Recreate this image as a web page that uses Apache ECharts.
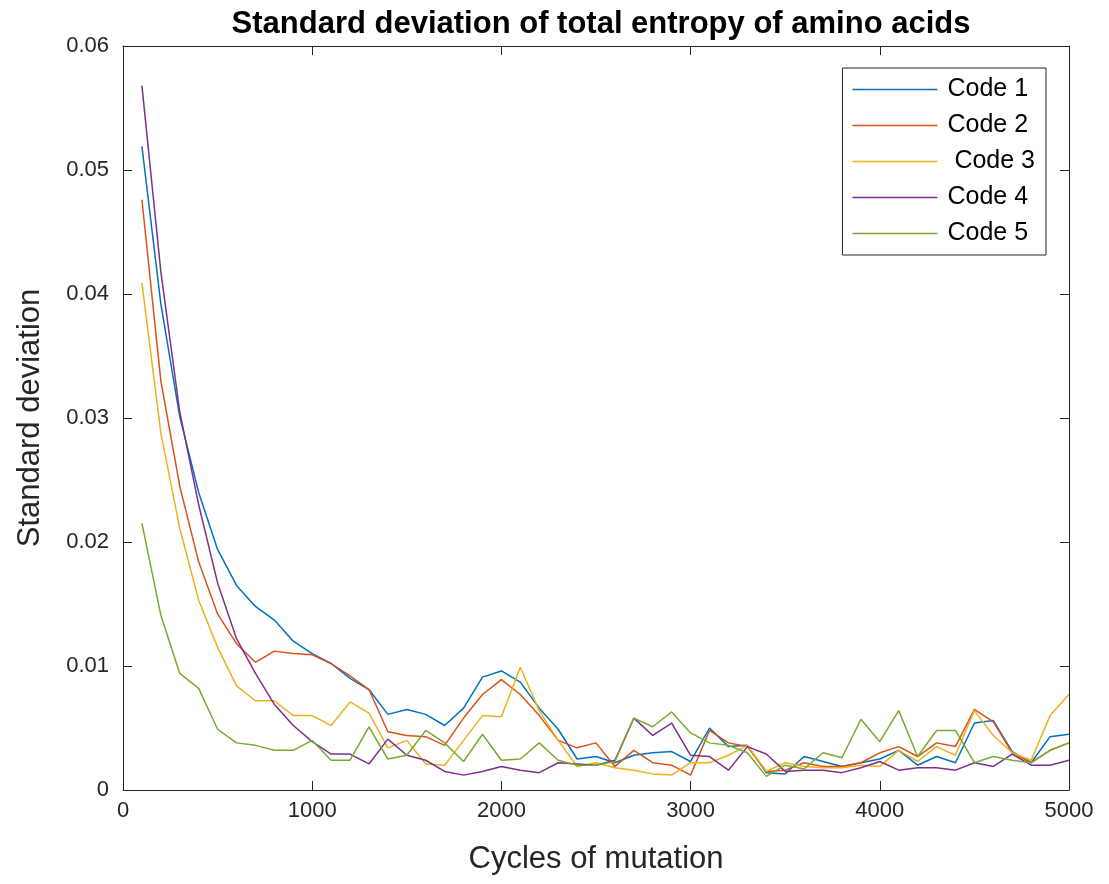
<!DOCTYPE html>
<html>
<head>
<meta charset="utf-8">
<script src="https://cdn.jsdelivr.net/npm/echarts@6/dist/echarts.min.js"></script>
<style>
html,body{margin:0;padding:0;background:#fff;}
#chart{width:1109px;height:884px;}
</style>
</head>
<body>
<div id="chart"></div>
<script>
var cycles = [100,200,300,400,500,600,700,800,900,1000,
  1100,1200,1300,1400,1500,1600,1700,1800,1900,2000,
  2100,2200,2300,2400,2500,2600,2700,2800,2900,3000,
  3100,3200,3300,3400,3500,3600,3700,3800,3900,4000,
  4100,4200,4300,4400,4500,4600,4700,4800,4900,5000];

var code1 = [0.0519,0.0392,0.0301,0.0240,0.0194,0.0165,0.0148,0.0137,0.0120,0.0110,
  0.0102,0.0090,0.0081,0.0061,0.0065,0.0061,0.0052,0.0066,0.0091,0.0096,
  0.0087,0.0066,0.0049,0.0025,0.0027,0.0022,0.0028,0.0030,0.0031,0.0023,
  0.0050,0.0035,0.0036,0.0014,0.0013,0.0027,0.0023,0.0019,0.0022,0.0025,
  0.0032,0.0020,0.0027,0.0022,0.0054,0.0056,0.0031,0.0022,0.0043,0.0045];

var code2 = [0.0476,0.0330,0.0245,0.0184,0.0142,0.0118,0.0103,0.0112,0.0110,0.0109,
  0.0102,0.0092,0.0081,0.0047,0.0044,0.0043,0.0036,0.0058,0.0077,0.0089,
  0.0077,0.0060,0.0040,0.0034,0.0038,0.0019,0.0032,0.0022,0.0020,0.0012,
  0.0048,0.0038,0.0035,0.0015,0.0016,0.0022,0.0019,0.0019,0.0022,0.0030,
  0.0035,0.0027,0.0038,0.0035,0.0065,0.0055,0.0030,0.0022,0.0032,0.0038];

var code3 = [0.0409,0.0288,0.0211,0.0153,0.0115,0.0084,0.0072,0.0072,0.0060,0.0060,
  0.0052,0.0071,0.0062,0.0034,0.0040,0.0021,0.0020,0.0040,0.0060,0.0059,
  0.0099,0.0064,0.0040,0.0019,0.0022,0.0018,0.0016,0.0013,0.0012,0.0022,
  0.0022,0.0028,0.0036,0.0015,0.0022,0.0019,0.0018,0.0018,0.0020,0.0019,
  0.0032,0.0023,0.0035,0.0028,0.0064,0.0044,0.0030,0.0024,0.0060,0.0077];

var code4 = [0.0568,0.0418,0.0305,0.0230,0.0167,0.0122,0.0094,0.0069,0.0052,0.0039,
  0.0029,0.0029,0.0021,0.0041,0.0028,0.0024,0.0015,0.0012,0.0015,0.0019,
  0.0016,0.0014,0.0022,0.0021,0.0020,0.0024,0.0058,0.0044,0.0054,0.0028,
  0.0027,0.0016,0.0035,0.0029,0.0015,0.0016,0.0016,0.0014,0.0018,0.0023,
  0.0016,0.0018,0.0018,0.0016,0.0022,0.0019,0.0029,0.0020,0.0020,0.0024];

var code5 = [0.0215,0.0141,0.0094,0.0082,0.0049,0.0038,0.0036,0.0032,0.0032,0.0040,
  0.0024,0.0024,0.0051,0.0025,0.0028,0.0048,0.0038,0.0023,0.0045,0.0024,
  0.0025,0.0038,0.0024,0.0020,0.0020,0.0023,0.0058,0.0051,0.0063,0.0046,
  0.0038,0.0036,0.0030,0.0011,0.0020,0.0017,0.0030,0.0026,0.0057,0.0039,
  0.0064,0.0027,0.0048,0.0048,0.0022,0.0027,0.0024,0.0022,0.0032,0.0038];

var seriesNames = ['Code 1','Code 2',' Code 3','Code 4','Code 5'];
var seriesData = [code1, code2, code3, code4, code5];
var colors = ['#0072BD','#D95319','#EDB120','#7E2F8E','#77AC30'];

var FONT = 'Liberation Sans, Arial, Helvetica, sans-serif';
var AX = '#262626';

function pairs(ys){
  return cycles.map(function(x,i){ return [x, ys[i]]; });
}

var chart = echarts.init(document.getElementById('chart'), null, {renderer:'canvas'});

var series = seriesNames.map(function(n, i){
  return {
    name: n,
    type: 'line',
    xAxisIndex: 0,
    yAxisIndex: 0,
    data: pairs(seriesData[i]),
    symbol: 'none',
    showSymbol: false,
    smooth: false,
    animation: false,
    lineStyle: {color: colors[i], width: 1.5},
    itemStyle: {color: colors[i]}
  };
});

function boxAxisX(pos, main){
  return {
    type: 'value', min: 0, max: 5000, interval: 1000,
    position: pos,
    axisLine: {show: true, onZero: false, lineStyle: {color: AX, width: 1}},
    axisTick: {show: true, inside: true, length: 9, lineStyle: {color: AX}},
    axisLabel: main ? {fontFamily: FONT, fontSize: 22, color: AX, margin: 10,
      formatter: function(v){ return String(v); }} : {show: false},
    splitLine: {show: false}
  };
}
function boxAxisY(pos, main){
  return {
    type: 'value', min: 0, max: 0.06, interval: 0.01,
    position: pos,
    axisLine: {show: true, onZero: false, lineStyle: {color: AX, width: 1}},
    axisTick: {show: true, inside: true, length: 9, lineStyle: {color: AX}},
    axisLabel: main ? {fontFamily: FONT, fontSize: 22, color: AX, margin: 14,
      formatter: function(v){ return v === 0 ? '0' : v.toFixed(2); }} : {show: false},
    splitLine: {show: false}
  };
}

var xMain = boxAxisX('bottom', true);
xMain.name = 'Cycles of mutation';
xMain.nameLocation = 'middle';
xMain.nameGap = 54;
xMain.nameTextStyle = {fontFamily: FONT, fontSize: 31, color: AX};

var yMain = boxAxisY('left', true);
yMain.name = 'Standard deviation';
yMain.nameLocation = 'middle';
yMain.nameGap = 77;
yMain.nameTextStyle = {fontFamily: FONT, fontSize: 31, color: AX};

var option = {
  backgroundColor: '#fff',
  animation: false,
  color: colors,
  title: {
    text: 'Standard deviation of total entropy of amino acids',
    left: 596,
    textAlign: 'center',
    top: 4,
    textStyle: {fontFamily: FONT, fontSize: 31, fontWeight: 'bold', color: '#000'}
  },
  legend: {
    orient: 'vertical',
    right: 63,
    top: 68,
    backgroundColor: '#fff',
    borderColor: AX,
    borderWidth: 1,
    borderRadius: 0,
    padding: [9, 11, 9, 10],
    itemWidth: 85,
    itemHeight: 1.5,
    itemGap: 11,
    textStyle: {fontFamily: FONT, fontSize: 25, color: '#000', padding: [0, 0, 0, 5]},
    data: seriesNames.map(function(n,i){ return {name: n, icon: 'rect', itemStyle:{color: colors[i]}}; })
  },
  grid: {left: 123, right: 40, top: 46, bottom: 94, containLabel: false},
  xAxis: [xMain, boxAxisX('top', false)],
  yAxis: [yMain, boxAxisY('right', false)],
  series: series
};
chart.setOption(option);
</script>
</body>
</html>
